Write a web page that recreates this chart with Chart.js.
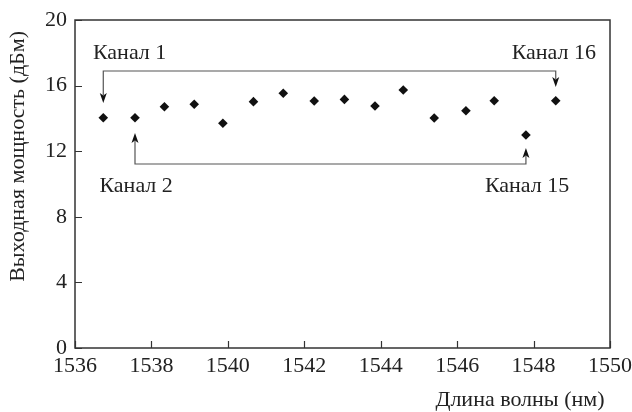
<!DOCTYPE html>
<html>
<head>
<meta charset="utf-8">
<script src="https://cdn.jsdelivr.net/npm/chart.js@4"></script>
<style>
  body { margin: 0; background: #fff; }
  #wrap { width: 632px; height: 412px; }
</style>
</head>
<body>
<div id="wrap"><canvas id="myChart" width="632" height="412"></canvas></div>
<script>
// channel wavelengths (nm) and output power (dBm)
const wavelengths = [1536.74, 1537.57, 1538.34, 1539.12, 1539.87, 1540.67, 1541.45, 1542.26,
                     1543.05, 1543.85, 1544.59, 1545.40, 1546.23, 1546.97, 1547.80, 1548.58];
const powers = [14.04, 14.04, 14.71, 14.86, 13.70, 15.02, 15.53, 15.06,
                15.16, 14.76, 15.73, 14.02, 14.47, 15.08, 12.99, 15.08];

const xTicks = [1536, 1538, 1540, 1542, 1544, 1546, 1548, 1550];
const yTicks = [0, 4, 8, 12, 16, 20];

// callouts: label text, label centre (data units), which channel the arrow goes to
const calloutText = ['Канал 1', 'Канал 16', 'Канал 2', 'Канал 15'];
const calloutX = [1537.43, 1548.53, 1537.60, 1547.83];
const calloutY = [18.05, 18.05, 9.94, 9.94];
const calloutChannel = [0, 15, 1, 14];
const arrowTipY = [14.94, 15.91, 13.11, 12.20];
// bracket lines joining the pairs (y level in dBm)
const bracketLevel = [16.89, 11.22];

const serif = '"Liberation Serif", "Times New Roman", serif';

const points = wavelengths.map((w, i) => ({x: w, y: powers[i]}));

function arrowHead(ctx, x, y, dir) {
  // dir = 1 points down, -1 points up
  ctx.beginPath();
  ctx.moveTo(x, y);
  ctx.lineTo(x - 3.5, y - dir * 10);
  ctx.lineTo(x, y - dir * 7.5);
  ctx.lineTo(x + 3.5, y - dir * 10);
  ctx.closePath();
  ctx.fill();
}

const decor = {
  id: 'decor',
  afterDatasetsDraw(chart) {
    const ctx = chart.ctx;
    const a = chart.chartArea;
    const xs = chart.scales.x, ys = chart.scales.y;
    ctx.save();
    // frame
    ctx.strokeStyle = '#333';
    ctx.lineWidth = 1.5;
    ctx.strokeRect(a.left, a.top, a.right - a.left, a.bottom - a.top);
    // inward tick marks
    ctx.lineWidth = 1.2;
    ctx.beginPath();
    xTicks.forEach(v => {
      const px = Math.round(xs.getPixelForValue(v)) + 0.5;
      ctx.moveTo(px, a.bottom);
      ctx.lineTo(px, a.bottom - 7);
    });
    yTicks.forEach(v => {
      const py = Math.round(ys.getPixelForValue(v)) + 0.5;
      ctx.moveTo(a.left, py);
      ctx.lineTo(a.left + 7, py);
    });
    ctx.stroke();

    // brackets with arrows
    ctx.strokeStyle = '#555';
    ctx.fillStyle = '#111';
    ctx.lineWidth = 1.2;
    [[0, 1], [2, 3]].forEach((pair, k) => {
      const ly = ys.getPixelForValue(bracketLevel[k]);
      const dir = k === 0 ? 1 : -1;
      const x0 = xs.getPixelForValue(wavelengths[calloutChannel[pair[0]]]);
      const x1 = xs.getPixelForValue(wavelengths[calloutChannel[pair[1]]]);
      const t0 = ys.getPixelForValue(arrowTipY[pair[0]]);
      const t1 = ys.getPixelForValue(arrowTipY[pair[1]]);
      ctx.beginPath();
      ctx.moveTo(x0, t0 - dir * 8);
      ctx.lineTo(x0, ly);
      ctx.lineTo(x1, ly);
      ctx.lineTo(x1, t1 - dir * 8);
      ctx.stroke();
      arrowHead(ctx, x0, t0, dir);
      arrowHead(ctx, x1, t1, dir);
    });

    // callout labels
    ctx.fillStyle = '#222';
    ctx.font = '22px ' + serif;
    ctx.textAlign = 'center';
    ctx.textBaseline = 'middle';
    calloutText.forEach((t, i) => {
      ctx.fillText(t, xs.getPixelForValue(calloutX[i]), ys.getPixelForValue(calloutY[i]) + 1);
    });
    ctx.restore();
  }
};

const data = {
  datasets: [{
    data: points,
    pointStyle: 'rectRot',
    pointRadius: 4.8,
    pointHoverRadius: 4.8,
    backgroundColor: '#111',
    borderColor: '#111',
    borderWidth: 0,
    showLine: false
  }]
};

const config = {
  type: 'scatter',
  data: data,
  options: {
    responsive: false,
    animation: false,
    layout: { padding: { top: 20, right: 22, left: 0, bottom: 0 } },
    plugins: { legend: { display: false }, tooltip: { enabled: false } },
    scales: {
      x: {
        type: 'linear',
        min: 1536, max: 1550,
        afterFit(scale) {
          scale.height = 64;
          scale.paddingLeft = 0;
          scale.paddingRight = 0;
        },
        afterBuildTicks(scale) { scale.ticks = xTicks.map(v => ({value: v})); },
        grid: { display: false, drawTicks: false },
        border: { display: false },
        ticks: {
          padding: 5, color: '#222', font: { family: serif, size: 22 },
          callback: v => String(v)
        },
        title: {
          display: true, text: 'Длина волны (нм) ', align: 'end',
          color: '#222', font: { family: serif, size: 22 }, padding: { top: 0, bottom: -1 }
        }
      },
      y: {
        min: 0, max: 20,
        afterFit(scale) {
          scale.width = 75;
          scale.paddingTop = 0;
          scale.paddingBottom = 0;
        },
        afterBuildTicks(scale) { scale.ticks = yTicks.map(v => ({value: v})); },
        grid: { display: false, drawTicks: false },
        border: { display: false },
        ticks: { padding: 8, color: '#222', font: { family: serif, size: 22 } },
        title: {
          display: true, text: 'Выходная мощность (дБм)  ', align: 'end',
          color: '#222', font: { family: serif, size: 22 }, padding: { top: 5, bottom: 0 }
        }
      }
    }
  },
  plugins: [decor]
};

const myChart = new Chart(document.getElementById('myChart'), config);
</script>
</body>
</html>
